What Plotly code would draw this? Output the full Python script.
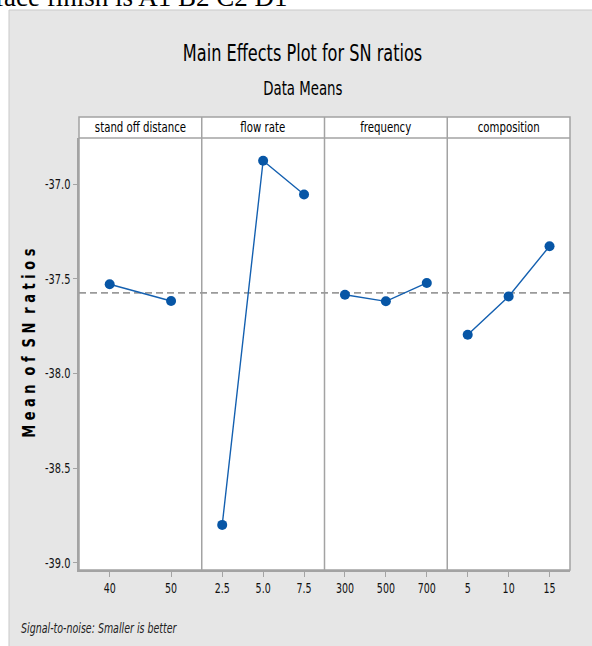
import numpy as np
import plotly.graph_objects as go

# ---- data ----
factors = ["stand off distance", "flow rate", "frequency", "composition"]
standoff_levels = ["40", "50"]
standoff_sn = [-37.529, -37.617]
flow_levels = ["2.5", "5.0", "7.5"]
flow_sn = [-38.799, -36.877, -37.055]
freq_levels = ["300", "500", "700"]
freq_sn = [-37.584, -37.619, -37.522]
comp_levels = ["5", "10", "15"]
comp_sn = [-37.795, -37.593, -37.328]
y_tick_vals = [-39.0, -38.5, -38.0, -37.5, -37.0]
y_tick_text = ["-39.0", "-38.5", "-38.0", "-37.5", "-37.0"]

levels_all = [standoff_levels, flow_levels, freq_levels, comp_levels]
sn_all = [standoff_sn, flow_sn, freq_sn, comp_sn]
grand_mean = float(np.mean([np.mean(v) for v in sn_all]))

# ---- layout geometry (pixels) ----
W, H = 592, 646
L, R, T, B = 79, 22, 138, 76
PW, PH = W - L - R, H - T - B


def px(xp):
    return (xp - L) / PW


def py(yp):
    return (H - B - yp) / PH


NARROW = "DejaVu Sans Condensed, DejaVu Sans, sans-serif"
BLUE = "#0756a6"
AX = "#a3a3a3"

fig = go.Figure()
n = len(factors)
for i, (lev, vals) in enumerate(zip(levels_all, sn_all)):
    xa = "x" if i == 0 else f"x{i+1}"
    fig.add_trace(go.Scatter(
        x=list(range(len(lev))), y=vals, xaxis=xa, yaxis="y",
        mode="lines+markers",
        line=dict(color="#1460b0", width=1.4),
        marker=dict(color=BLUE, size=10, symbol="circle"),
        showlegend=False, hoverinfo="skip"))
    key = "xaxis" if i == 0 else f"xaxis{i+1}"
    fig.layout[key] = dict(
        domain=[i / n, (i + 1) / n], anchor="y",
        range=[-0.5, len(lev) - 0.5],
        tickvals=list(range(len(lev))), ticktext=lev,
        ticks="outside", ticklen=5, tickwidth=1, tickcolor=AX,
        showline=True, linecolor=AX, linewidth=1.5,
        showgrid=False, zeroline=False, fixedrange=True,
        tickfont=dict(family=NARROW, size=13.5, color="#111"))

fig.update_layout(
    width=W, height=H, autosize=False,
    margin=dict(l=L, r=R, t=T, b=B, pad=0),
    paper_bgcolor="white", plot_bgcolor="white",
    yaxis=dict(
        domain=[0, 1], range=[-39.037, -36.757],
        tickvals=y_tick_vals, ticktext=y_tick_text,
        ticks="outside", ticklen=4, tickwidth=1, tickcolor=AX,
        showline=True, linecolor=AX, linewidth=1.5,
        showgrid=False, zeroline=False, fixedrange=True,
        tickfont=dict(family=NARROW, size=14, color="#111")),
)

shapes = []
# gray panel background
shapes.append(dict(type="rect", xref="paper", yref="paper",
                   x0=px(9), x1=px(W + 20), y0=py(H + 20), y1=py(10),
                   fillcolor="#e6e6e6", line=dict(color="#c9c9c9", width=1),
                   layer="below"))
# white plot area including header strip
shapes.append(dict(type="rect", xref="paper", yref="paper",
                   x0=0, x1=1, y0=0, y1=py(117),
                   fillcolor="white", line=dict(color=AX, width=1.5),
                   layer="below"))
# header bottom line
shapes.append(dict(type="line", xref="paper", yref="paper",
                   x0=0, x1=1, y0=1, y1=1,
                   line=dict(color=AX, width=1.5), layer="below"))
# panel dividers
for i in range(1, n):
    shapes.append(dict(type="line", xref="paper", yref="paper",
                       x0=i / n, x1=i / n, y0=0, y1=py(117),
                       line=dict(color=AX, width=1.5), layer="below"))
# grand mean reference line
shapes.append(dict(type="line", xref="paper", yref="y",
                   x0=0, x1=1, y0=grand_mean, y1=grand_mean,
                   line=dict(color="#9a9a9a", width=1.8, dash="7px,4px"),
                   layer="below"))
fig.update_layout(shapes=shapes)

ann = []
ann.append(dict(text="surface finish is A1 B2 C2 D1", xref="paper", yref="paper",
                x=px(289), y=py(-3), xanchor="right", yanchor="middle",
                showarrow=False,
                font=dict(family="Liberation Serif, Times New Roman, serif", size=27, color="black")))
ann.append(dict(text="Main Effects Plot for SN ratios", xref="paper", yref="paper",
                x=px(302.5), y=py(53), xanchor="center", yanchor="middle",
                showarrow=False, font=dict(family=NARROW, size=23, color="black")))
ann.append(dict(text="Data Means", xref="paper", yref="paper",
                x=px(302.5), y=py(88), xanchor="center", yanchor="middle",
                showarrow=False, font=dict(family=NARROW, size=19, color="black")))
for i, f in enumerate(factors):
    ann.append(dict(text=f, xref="paper", yref="paper",
                    x=(i + 0.5) / n, y=py(127.5), xanchor="center", yanchor="middle",
                    showarrow=False, font=dict(family=NARROW, size=14.5, color="black")))
ann.append(dict(text="<b>M e a n  o f  S N  r a t i o s</b>", xref="paper", yref="paper",
                x=px(28.5), y=py(343), xanchor="center", yanchor="middle",
                textangle=-90, showarrow=False,
                font=dict(family=NARROW, size=18.5, color="black")))
ann.append(dict(text="<i>Signal-to-noise: Smaller is better</i>", xref="paper", yref="paper",
                x=px(99), y=py(628), xanchor="center", yanchor="middle",
                showarrow=False, font=dict(family=NARROW, size=13.5, color="#222")))
fig.update_layout(annotations=ann)

post = """
document.body.style.margin = '0';
var gd = document.getElementById('{plot_id}');
var texts = gd.querySelectorAll('text');
texts.forEach(function(t){
  var ff = t.style.fontFamily || t.getAttribute('font-family') || '';
  if (ff.indexOf('Condensed') < 0) return;
  var bb;
  try { bb = t.getBBox(); } catch(e) { return; }
  if (!bb || !bb.width) return;
  var anc = t.getAttribute('text-anchor') || t.style.textAnchor || 'start';
  var ax = anc === 'end' ? bb.x + bb.width : (anc === 'middle' ? bb.x + bb.width / 2 : bb.x);
  var s = 0.78;
  var tr = t.getAttribute('transform') || '';
  t.setAttribute('transform', tr + ' translate(' + ax + ',0) scale(' + s + ',1) translate(' + (-ax) + ',0)');
});
"""
fig.write_html("out.html", post_script=post, config={"displayModeBar": False})
